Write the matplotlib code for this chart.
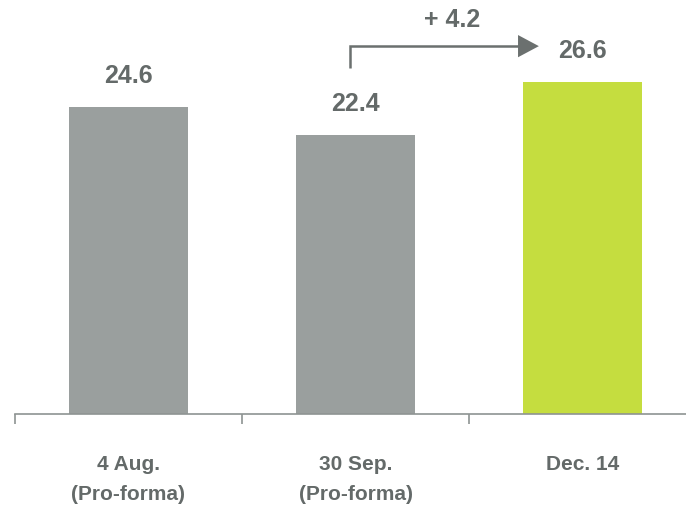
import matplotlib
matplotlib.use("Agg")
import matplotlib.pyplot as plt
import matplotlib.transforms as mtransforms
from matplotlib.patches import FancyArrowPatch

categories = ["4 Aug.\n(Pro-forma)", "30 Sep.\n(Pro-forma)", "Dec. 14"]
values = [24.6, 22.4, 26.6]
bar_colors = ["#9a9f9e", "#9a9f9e", "#c5dd3f"]

TEXT = "#646a69"
AXIS = "#8e9392"
plt.rcParams["font.family"] = ["Liberation Sans", "DejaVu Sans"]

W, H = 686, 509
fig = plt.figure(figsize=(W / 100, H / 100), dpi=100)
ax = fig.add_axes([15 / W, 95 / H, 681 / W, 414 / H])

x = list(range(len(values)))
ax.bar(x, values, width=0.525, color=bar_colors, zorder=2)
ax.set_xlim(-0.5, 2.5)
ax.set_ylim(0, 33.2)

for s in ("top", "right", "left"):
    ax.spines[s].set_visible(False)
ax.spines["bottom"].set_color(AXIS)
ax.spines["bottom"].set_linewidth(1.2)
ax.set_yticks([])
ax.set_xticks([-0.5, 0.5, 1.5, 2.5])
ax.set_xticklabels([])
ax.tick_params(axis="x", direction="out", length=7, width=1.2, color=AXIS)

# value labels above bars
for xi, v in zip(x, values):
    ax.annotate(f"{v:.1f}", (xi, v), xytext=(0, 31), textcoords="offset pixels",
                ha="center", va="center", fontsize=18, fontweight="bold", color=TEXT)

# category labels, one line at a time
cat_tr = mtransforms.blended_transform_factory(ax.transData, fig.transFigure)
for xi, lab in zip(x, categories):
    for j, line in enumerate(lab.split("\n")):
        ax.text(xi, 1 - (465 + 30 * j) / H, line, transform=cat_tr,
                ha="center", va="center", fontsize=15, fontweight="bold", color=TEXT)

# change arrow from 30 Sep. to Dec. 14
ARROW = "#6b706f"
x0, x1 = 0.976, 1.82
y0, y1 = 27.75, 29.5
ax.plot([x0, x0, x1 - 0.05], [y0, y1, y1], color=ARROW, lw=1.8, solid_capstyle="butt",
        solid_joinstyle="miter", clip_on=False)
ax.add_patch(FancyArrowPatch((x1 - 0.07, y1), (x1, y1), arrowstyle="-|>,head_length=6,head_width=3.2",
                             color=ARROW, lw=0, mutation_scale=2.5, clip_on=False))
diff = values[2] - values[1]
ax.text(1.425, 31.6, f"+ {diff:.1f}", ha="center", va="center", fontsize=18,
        fontweight="bold", color=TEXT)

fig.savefig("out.png", dpi=100)
